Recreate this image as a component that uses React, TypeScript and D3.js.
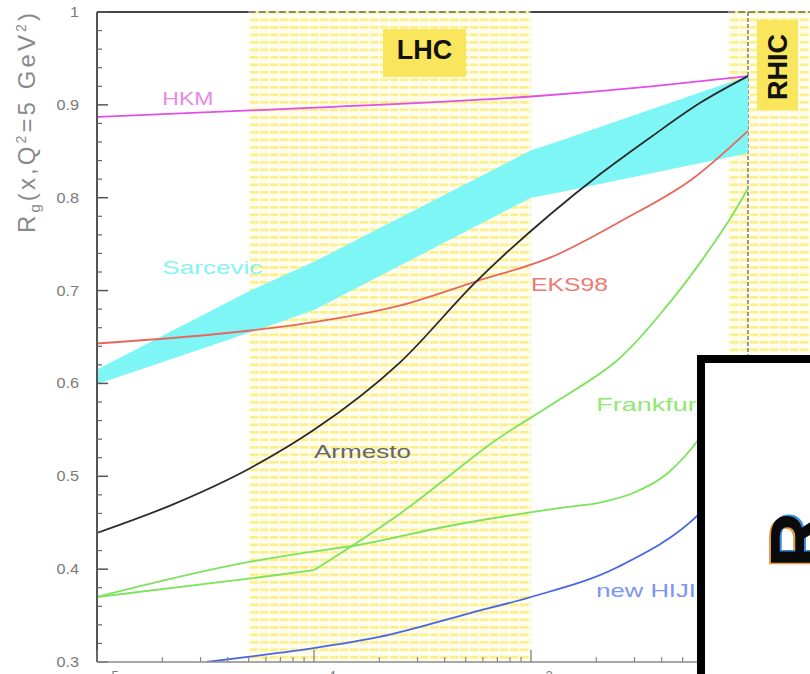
import React from "react";
import * as d3 from "d3";

// Axis domains and ticks
const xDomain: [number, number] = [1e-5, 1e-2];
const yDomain: [number, number] = [0.3, 1];
const yTickValues = [0.3, 0.4, 0.5, 0.6, 0.7, 0.8, 0.9, 1];
const yTickLabels = ["0.3", "0.4", "0.5", "0.6", "0.7", "0.8", "0.9", "1"];
const xDecades = [1e-5, 1e-4, 1e-3, 1e-2];
const xDecadeExps = ["\u22125", "\u22124", "\u22123", "\u22122"];

// Kinematic regions
const lhcRange = [5e-5, 1e-3];
const rhicRange = [8.1e-3, 3e-2];
const rhicX = 1e-2;

// Gluon shadowing ratio R_g(x, Q^2 = 5 GeV^2) per model
const hkmX = [1e-5, 5.1e-5, 1e-4, 1e-3, 3.6e-3, 1e-2];
const hkmY = [0.887, 0.894, 0.897, 0.909, 0.92, 0.931];

const sarcevicX = [1e-5, 5.1e-5, 1e-4, 1e-3, 1.24e-3, 1e-2];
const sarcevicHi = [0.615, 0.7, 0.731, 0.851, 0.858, 0.931];
const sarcevicLo = [0.599, 0.655, 0.679, 0.8, 0.804, 0.848];

const eksX = [1e-5, 5.1e-5, 1e-4, 2.5e-4, 5.6e-4, 1.24e-3, 2.65e-3, 5.6e-3, 1e-2];
const eksY = [0.643, 0.657, 0.666, 0.684, 0.71, 0.736, 0.776, 0.821, 0.872];

const armestoX = [1e-5, 2.2e-5, 5.1e-5, 1e-4, 2.5e-4, 5.6e-4, 1.24e-3, 2.1e-3, 3.6e-3, 6.1e-3, 1e-2];
const armestoY = [0.439, 0.469, 0.509, 0.55, 0.623, 0.71, 0.783, 0.826, 0.866, 0.903, 0.931];

// Frankfurt: two curves; the first has a break in slope at x = 1e-4
const frankfurtAX = [1e-5, 5.1e-5, 1e-4, 2.5e-4, 6.9e-4, 1.24e-3, 2.5e-3, 4.25e-3, 6.1e-3, 8.1e-3, 1e-2];
const frankfurtAY = [0.37, 0.39, 0.399, 0.46, 0.539, 0.577, 0.625, 0.684, 0.732, 0.774, 0.81];

const frankfurtBX = [1e-5, 5.1e-5, 8.7e-5, 1.6e-4, 4.3e-4, 1.37e-3, 2.1e-3, 2.96e-3, 4.25e-3, 5.9e-3, 1e-2];
const frankfurtBY = [0.37, 0.408, 0.417, 0.426, 0.447, 0.466, 0.472, 0.482, 0.503, 0.539, 0.63];

const hijingX = [3.2e-5, 7e-5, 1e-4, 2e-4, 5.3e-4, 1e-3, 2.5e-3, 6e-3, 1e-2];
const hijingY = [0.3, 0.31, 0.315, 0.327, 0.353, 0.37, 0.402, 0.46, 0.52];

const FONT = "'Liberation Sans', Arial, Helvetica, sans-serif";

export default function App() {
  const W = 810;
  const H = 674;
  const x = d3.scaleLog().domain(xDomain).range([97, 748]);
  const y = d3.scaleLinear().domain(yDomain).range([662, 12]);
  const left = x(xDomain[0]);
  const top = y(1);
  const bottom = y(0.3);

  const smooth = d3.curveMonotoneX;
  const line = (xs: number[], ys: number[], curve: d3.CurveFactory = smooth) =>
    d3
      .line<number>()
      .x((_, i) => x(xs[i]))
      .y((d) => y(d))
      .curve(curve)(ys) ?? "";

  const band =
    d3
      .area<number>()
      .x((_, i) => x(sarcevicX[i]))
      .y0((_, i) => y(sarcevicLo[i]))
      .y1((d) => y(d))
      .curve(d3.curveLinear)(sarcevicHi) ?? "";

  // split the Frankfurt curve at its slope break
  const breakIdx = frankfurtAX.indexOf(1e-4);
  const frankA1 = line(frankfurtAX.slice(0, breakIdx + 1), frankfurtAY.slice(0, breakIdx + 1), d3.curveLinear);
  const frankA2 = line(frankfurtAX.slice(breakIdx), frankfurtAY.slice(breakIdx), d3.curveCatmullRom.alpha(0.5));

  const xMinor: number[] = [];
  for (const d of xDecades.slice(0, 3)) for (let k = 2; k <= 9; k++) xMinor.push(k * d);
  const yMinor = d3
    .range(15, 50)
    .map((i) => i * 0.02)
    .filter((v) => Math.abs(v * 10 - Math.round(v * 10)) > 1e-6);

  const labels = [
    { text: "HKM", xv: 2e-5, yv: 0.9, color: "#e689e8", len: 51, size: 18 },
    { text: "Sarcevic", xv: 2e-5, yv: 0.718, color: "#86f3f3", len: 100, size: 19 },
    { text: "EKS98", xv: 1e-3, yv: 0.7, color: "#ec7a72", len: 77, size: 19 },
    { text: "Armesto", xv: 1e-4, yv: 0.52, color: "#666666", len: 97, size: 19 },
    { text: "Frankfurt", xv: 2e-3, yv: 0.57, color: "#8fe874", len: 108, size: 19 },
    { text: "new HIJING", xv: 2e-3, yv: 0.37, color: "#7a95f5", len: 138, size: 19 },
  ];

  return (
    <div style={{ position: "absolute", left: 0, top: 0 }}>
      <svg width={W} height={H} viewBox={`0 0 ${W} ${H}`} style={{ display: "block", background: "#fff" }}>
        <defs>
          <pattern id="hatch" width={10} height={7.5} patternUnits="userSpaceOnUse" x={0} y={top - 1}>
            <rect width={10} height={7.5} fill="#fffdee" />
            <rect x={0} y={0} width={8.5} height={2.6} fill="#fcee88" />
          </pattern>
          <clipPath id="plot">
            <rect x={left} y={top} width={W - left} height={bottom - top} />
          </clipPath>
        </defs>

        {/* frame top */}
        <line x1={left} x2={W} y1={top} y2={top} stroke="#444" strokeWidth={2} />

        {/* LHC and RHIC regions */}
        <rect x={x(lhcRange[0])} y={top - 1} width={x(lhcRange[1]) - x(lhcRange[0])} height={bottom - top + 1} fill="url(#hatch)" />
        <rect x={x(rhicRange[0])} y={top - 1} width={x(rhicRange[1]) - x(rhicRange[0])} height={bottom - top + 1} fill="url(#hatch)" />
        {/* frame line shows through the hatch gaps */}
        <line x1={x(lhcRange[0])} x2={x(lhcRange[1])} y1={top} y2={top} stroke="#666" strokeWidth={1.5} strokeDasharray="7 3" />
        <line x1={x(rhicRange[0])} x2={W} y1={top} y2={top} stroke="#666" strokeWidth={1.5} strokeDasharray="7 3" />

        <line x1={x(rhicX)} x2={x(rhicX)} y1={top} y2={bottom} stroke="#777" strokeWidth={1.5} strokeDasharray="4 2" />

        <g clipPath="url(#plot)" fill="none" strokeWidth={1.8}>
          <path d={band} fill="#7ff6f6" stroke="none" />
          <path d={line(hkmX, hkmY)} stroke="#e14fe6" />
          <path d={line(eksX, eksY)} stroke="#e8675c" />
          <path d={line(armestoX, armestoY)} stroke="#2a2a2a" />
          <path d={frankA1} stroke="#7de35c" />
          <path d={frankA2} stroke="#7de35c" />
          <path d={line(frankfurtBX, frankfurtBY)} stroke="#7de35c" />
          <path d={line(hijingX, hijingY)} stroke="#4766e6" />
        </g>

        {/* left axis */}
        <line x1={left} x2={left} y1={top} y2={bottom} stroke="#555" strokeWidth={2} />
        {yTickValues.map((v) => (
          <line key={`ym${v}`} x1={left} x2={left + 11} y1={y(v)} y2={y(v)} stroke="#555" strokeWidth={1.5} />
        ))}
        {yMinor.map((v) => (
          <line key={`yn${v}`} x1={left} x2={left + 5} y1={y(v)} y2={y(v)} stroke="#666" strokeWidth={1.2} />
        ))}
        {yTickValues.map((v, i) => (
          <text
            key={`yl${v}`}
            transform={`translate(79,${y(v) + 5}) scale(1.12,1)`}
            textAnchor="end"
            fontFamily={FONT}
            fontSize={14.5}
            fill="#7a7a7a"
          >
            {yTickLabels[i]}
          </text>
        ))}

        {/* bottom axis */}
        <line x1={left} x2={W} y1={bottom} y2={bottom} stroke="#8a8a8a" strokeWidth={1.5} />
        {xDecades.map((v) => (
          <line key={`xm${v}`} x1={x(v)} x2={x(v)} y1={bottom} y2={bottom - 12} stroke="#777" strokeWidth={1.2} />
        ))}
        {xMinor.map((v) => (
          <line key={`xn${v}`} x1={x(v)} x2={x(v)} y1={bottom} y2={bottom - 5} stroke="#888" strokeWidth={1.2} />
        ))}
        {xDecades.map((v, i) => (
          <g key={`xl${v}`} fontFamily={FONT} fill="#7a7a7a">
            <text x={x(v) - 12} y={693} fontSize={17}>10</text>
            <text x={x(v) + 7} y={680} fontSize={13}>{xDecadeExps[i]}</text>
          </g>
        ))}

        {/* y-axis title */}
        <text
          transform="translate(35,233) rotate(-90)"
          fontFamily={FONT}
          fontSize={24}
          fill="#8a8a8a"
          textLength={220}
          lengthAdjust="spacing"
        >
          R
          <tspan fontSize={15} dy={5}>g</tspan>
          <tspan dy={-5}>(x,Q</tspan>
          <tspan fontSize={14} dy={-9}>2</tspan>
          <tspan dy={9}>=5 GeV</tspan>
          <tspan fontSize={14} dy={-9}>2</tspan>
          <tspan dy={9}>)</tspan>
        </text>

        {/* model labels */}
        {labels.map((l) => (
          <text
            key={l.text}
            x={x(l.xv)}
            y={y(l.yv)}
            fontFamily={FONT}
            fontSize={l.size}
            fill={l.color}
            textLength={l.len}
            lengthAdjust="spacingAndGlyphs"
          >
            {l.text}
          </text>
        ))}

        {/* region tags */}
        <rect x={383} y={29} width={83} height={48} fill="#f9e65c" />
        <text x={424.5} y={59} textAnchor="middle" fontFamily={FONT} fontWeight="bold" fontSize={27} fill="#111">
          LHC
        </text>
        <rect x={757} y={20} width={41} height={90} fill="#f9e65c" />
        <text
          transform="translate(786.5,67) rotate(-90)"
          textAnchor="middle"
          fontFamily={FONT}
          fontWeight="bold"
          fontSize={27}
          fill="#111"
        >
          RHIC
        </text>

        {/* inset panel */}
        <rect x={701} y={359} width={200} height={400} fill="#fff" stroke="#000" strokeWidth={8} />
        <g fontFamily={FONT} fontWeight="bold" fontSize={78}>
          <text transform="translate(822,569.5) rotate(-90)" fill="#e39a4a">R</text>
          <text transform="translate(825.5,566.5) rotate(-90)" fill="#3b8de0">R</text>
          <text transform="translate(824,568) rotate(-90)" fill="#0a0a0a">R</text>
        </g>
      </svg>
    </div>
  );
}
